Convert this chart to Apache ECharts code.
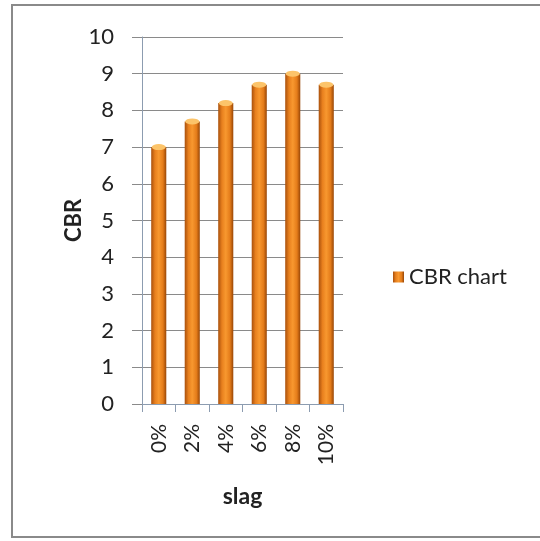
<!DOCTYPE html>
<html>
<head>
<meta charset="utf-8">
<script src="https://cdn.jsdelivr.net/npm/echarts@6/dist/echarts.min.js"></script>
<style>
  html, body { margin: 0; padding: 0; background: #fff; }
  #chart { width: 540px; height: 541px; }
</style>
</head>
<body>
<div id="chart"></div>
<script>
// CBR value for each slag content
const categories = ['0%', '2%', '4%', '6%', '8%', '10%'];
const cbrValues = [7.0, 7.7, 8.2, 8.7, 9.0, 8.7];
const seriesName = 'CBR chart';

const chart = echarts.init(document.getElementById('chart'));
const font = 'Lato, "Open Sans", sans-serif';

const barFill = new echarts.graphic.LinearGradient(0, 0, 1, 0, [
  { offset: 0, color: '#a9500c' },
  { offset: 0.25, color: '#e8801e' },
  { offset: 0.5, color: '#f8982f' },
  { offset: 0.78, color: '#e47c1a' },
  { offset: 1, color: '#984606' }
]);

chart.setOption({
  backgroundColor: '#ffffff',
  animation: false,
  grid: { left: 142, right: 197, top: 37, bottom: 137 },
  legend: {
    data: [seriesName],
    left: 388,
    top: 261,
    itemWidth: 11,
    itemHeight: 11,
    itemGap: 6,
    icon: 'rect',
    textStyle: { fontFamily: font, fontSize: 22, color: '#222' }
  },
  xAxis: {
    type: 'category',
    data: categories,
    name: 'slag',
    nameLocation: 'middle',
    nameGap: 81,
    nameTextStyle: { fontFamily: font, fontSize: 23, fontWeight: 'bold', color: '#222' },
    axisLine: { lineStyle: { color: '#8c9cb0', width: 1 } },
    axisTick: { show: true, length: 8, alignWithLabel: false, lineStyle: { color: '#8c9cb0' } },
    axisLabel: { rotate: 90, margin: 20, fontFamily: font, fontSize: 21, color: '#222' }
  },
  yAxis: {
    type: 'value',
    min: 0,
    max: 10,
    interval: 1,
    name: 'CBR',
    nameLocation: 'middle',
    nameGap: 53,
    nameTextStyle: { fontFamily: font, fontSize: 22, fontWeight: 'bold', color: '#222' },
    axisLine: { show: true, lineStyle: { color: '#8c9cb0', width: 1 } },
    axisTick: { show: true, length: 10, lineStyle: { color: '#8a8a8a' } },
    axisLabel: { margin: 28, fontFamily: font, fontSize: 22, color: '#222' },
    splitLine: { show: true, lineStyle: { color: '#8a8a8a', width: 1 } }
  },
  series: [{
    name: seriesName,
    type: 'bar',
    data: cbrValues,
    barWidth: '45%',
    itemStyle: { color: barFill }
  }, {
    // light top cap on each column
    name: 'cap',
    type: 'pictorialBar',
    data: cbrValues,
    symbol: 'circle',
    symbolSize: [14, 6],
    symbolPosition: 'end',
    symbolOffset: [0, '-50%'],
    z: 3,
    itemStyle: { color: '#fcc46a' },
    tooltip: { show: false }
  }],
  graphic: [{
    type: 'rect',
    shape: { x: 12, y: 5, width: 560, height: 532 },
    style: { fill: 'none', stroke: '#8a8a8a', lineWidth: 2 },
    silent: true
  }]
});
</script>
</body>
</html>
